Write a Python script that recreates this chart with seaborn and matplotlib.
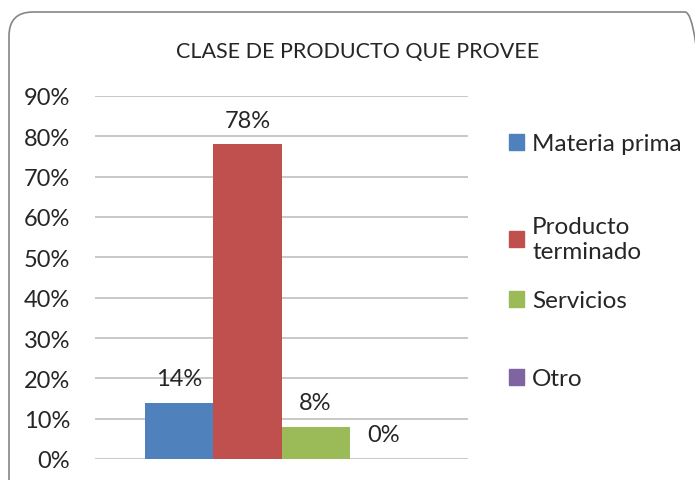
import matplotlib
matplotlib.use("Agg")
import matplotlib.pyplot as plt
import seaborn as sns
import pandas as pd
from matplotlib.patches import FancyBboxPatch
from matplotlib.transforms import IdentityTransform

categories = ["Materia prima", "Producto terminado", "Servicios", "Otro"]
legend_labels = ["Materia prima", "Producto\nterminado", "Servicios", "Otro"]
values = [0.14, 0.78, 0.08, 0.00]
colors = ["#4F81BD", "#C0504D", "#9BBB59", "#8064A2"]
yticks = [0, 0.1, 0.2, 0.3, 0.4, 0.5, 0.6, 0.7, 0.8, 0.9]
title = "CLASE DE PRODUCTO QUE PROVEE"

sns.set_theme(style="white")
plt.rcParams['font.family'] = ['Lato', 'DejaVu Sans']

df = pd.DataFrame({"grupo": ["x"] * len(categories), "clase": categories, "valor": values})

fig = plt.figure(figsize=(6.95, 4.81), dpi=100)
border = FancyBboxPatch((9, -30), 700, 481 - 13 + 30,
                        boxstyle="round,pad=0,rounding_size=24",
                        transform=IdentityTransform(), facecolor="none",
                        edgecolor="#868686", linewidth=1.2, zorder=-1)
fig.patches.append(border)

ax = fig.add_axes([95 / 695, 1 - 460 / 481, (468 - 95) / 695, (460 - 97) / 481])
ax.set_facecolor("none")
sns.barplot(data=df, x="grupo", y="valor", hue="clase", hue_order=categories,
            palette=colors, width=0.73, ax=ax, legend=False, saturation=1,
            linewidth=0)
ax.set_xlim(-0.5, 0.5)
ax.set_ylim(0, 0.9)
ax.set_yticks(yticks)
ax.set_yticklabels([f"{int(round(t * 100))}%" for t in yticks], fontsize=17)
ax.tick_params(axis="y", length=0, pad=18)
ax.set_xticks([])
ax.set_xlabel("")
ax.set_ylabel("")
for s in ax.spines.values():
    s.set_visible(False)
ax.yaxis.grid(True, color="#BFBFBF", linewidth=1.2)
ax.set_axisbelow(True)

for cont in ax.containers:
    ax.bar_label(cont, labels=[f"{int(round(v.get_height() * 100))}%" for v in cont],
                 padding=10, fontsize=17)

entry_y = [145, 240, 302, 380]
for c, lab, yy in zip(colors, legend_labels, entry_y):
    h = plt.Rectangle((0, 0), 1, 1, color=c)
    fig.legend([h], [lab], loc="center left", bbox_to_anchor=(509 / 695, 1 - yy / 481),
               frameon=False, fontsize=17.5, handlelength=0.6, handleheight=0.6,
               handletextpad=0.35, borderpad=0, borderaxespad=0)

fig.text(358 / 695, 1 - 52 / 481, title, ha="center", va="center", fontsize=15.5)

fig.savefig("out.png", dpi=100)
